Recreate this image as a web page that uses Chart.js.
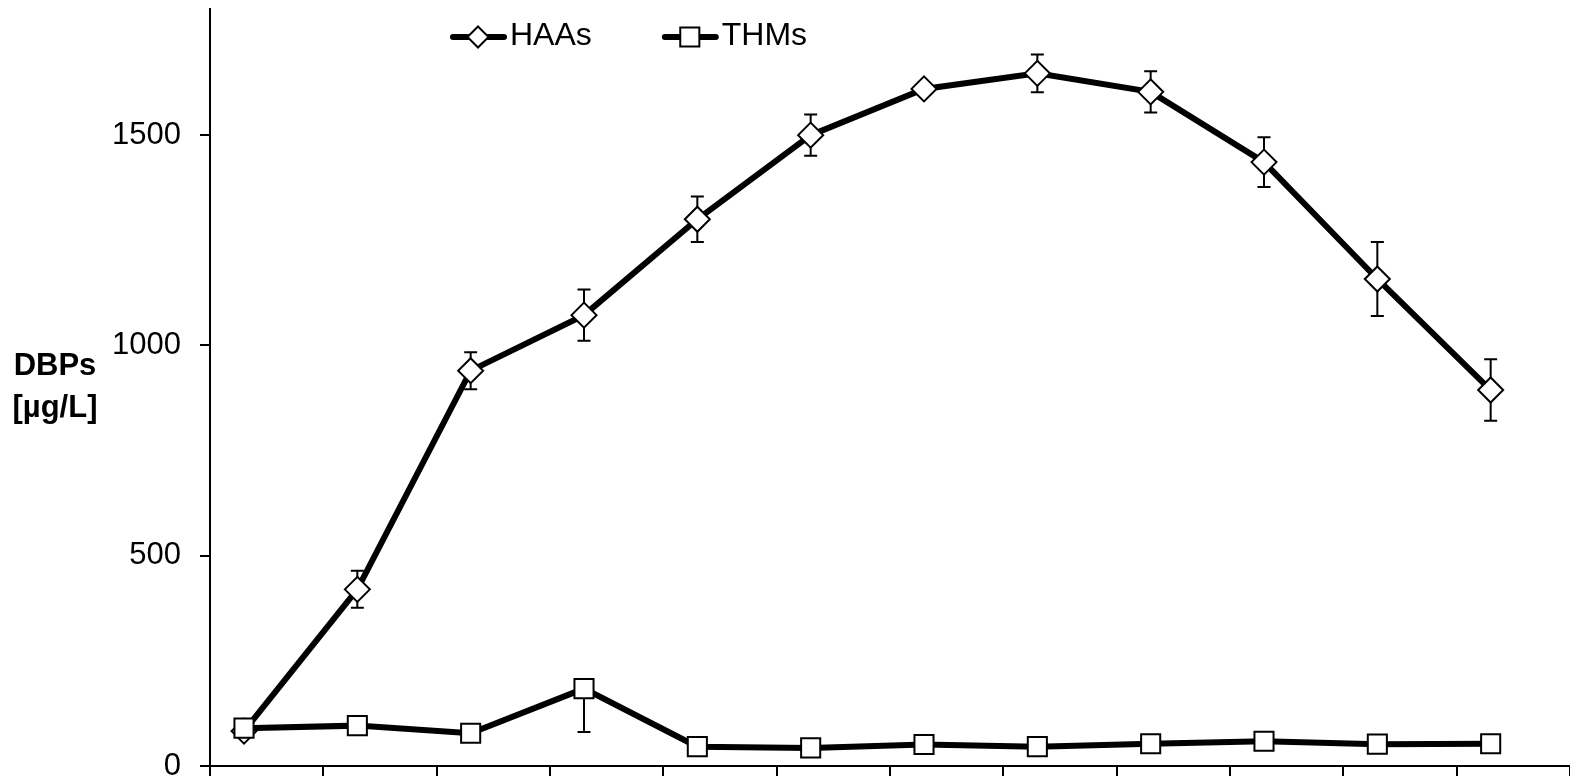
<!DOCTYPE html>
<html>
<head>
<meta charset="utf-8">
<script src="https://cdn.jsdelivr.net/npm/chart.js@4/dist/chart.umd.min.js"></script>
<style>
  html, body { margin: 0; padding: 0; background: #fff; }
  #wrap { width: 1570px; height: 780px; position: relative; }
</style>
</head>
<body>
<div id="wrap"><canvas id="c" width="1570" height="780"></canvas></div>
<script>
// ---- data ----
const seriesNames = ['HAAs', 'THMs'];
const xValues = [0.3, 1.3, 2.3, 3.3, 4.3, 5.3, 6.3, 7.3, 8.3, 9.3, 10.3, 11.3];
const haas = [83, 420, 940, 1072, 1300, 1500, 1610, 1647, 1603, 1436, 1158, 894];
const haasErrPlus = [0, 44, 44, 61, 54, 49, 0, 45, 49, 59, 88, 73];
const haasErrMinus = [0, 44, 44, 61, 54, 49, 0, 45, 49, 59, 88, 73];
const thms = [90, 96, 78, 184, 46, 43, 51, 46, 53, 59, 52, 53];
const thmsErrPlus = [0, 0, 0, 0, 0, 0, 0, 0, 0, 0, 0, 0];
const thmsErrMinus = [0, 0, 0, 103, 0, 0, 0, 0, 0, 0, 0, 0];
const xTickValues = [0, 1, 2, 3, 4, 5, 6, 7, 8, 9, 10, 11, 12];
const yTickValues = [0, 500, 1000, 1500];
const yTitleLines = ['DBPs', '[µg/L]'];

const FONT = '"Liberation Sans", Arial, sans-serif';

const errPlus = [haasErrPlus, thmsErrPlus];
const errMinus = [haasErrMinus, thmsErrMinus];
const values = [haas, thms];

const errorBarPlugin = {
  id: 'errorBars',
  beforeDatasetsDraw(chart) {
    const ctx = chart.ctx;
    const xs = chart.scales.x, ys = chart.scales.y;
    ctx.save();
    ctx.strokeStyle = '#000';
    ctx.lineWidth = 2;
    for (let d = 0; d < values.length; d++) {
      for (let i = 0; i < xValues.length; i++) {
        const p = errPlus[d][i], m = errMinus[d][i];
        const x = xs.getPixelForValue(xValues[i]);
        const yc = ys.getPixelForValue(values[d][i]);
        const cap = 6.5;
        if (p > 0) {
          const yt = ys.getPixelForValue(values[d][i] + p);
          ctx.beginPath();
          ctx.moveTo(x, yc); ctx.lineTo(x, yt);
          ctx.moveTo(x - cap, yt); ctx.lineTo(x + cap, yt);
          ctx.stroke();
        }
        if (m > 0) {
          const yb = ys.getPixelForValue(values[d][i] - m);
          ctx.beginPath();
          ctx.moveTo(x, yc); ctx.lineTo(x, yb);
          ctx.moveTo(x - cap, yb); ctx.lineTo(x + cap, yb);
          ctx.stroke();
        }
      }
    }
    ctx.restore();
  }
};

function drawMarker(ctx, style, x, y, r) {
  ctx.beginPath();
  if (style === 'rectRot') {
    ctx.moveTo(x - r, y); ctx.lineTo(x, y - r); ctx.lineTo(x + r, y); ctx.lineTo(x, y + r);
    ctx.closePath();
  } else {
    const s = Math.SQRT1_2 * r;
    ctx.rect(x - s, y - s, 2 * s, 2 * s);
  }
  ctx.fillStyle = '#fff';
  ctx.fill();
  ctx.lineWidth = 2;
  ctx.strokeStyle = '#000';
  ctx.stroke();
}

const legendTitlePlugin = {
  id: 'legendTitle',
  afterDraw(chart) {
    const ctx = chart.ctx;
    const area = chart.chartArea;
    ctx.save();
    // legend
    ctx.font = '32px ' + FONT;
    ctx.textBaseline = 'middle';
    ctx.textAlign = 'left';
    let x = area.left + 240;
    const y = area.top + 27;
    chart.data.datasets.forEach((ds, i) => {
      ctx.strokeStyle = '#000';
      ctx.lineWidth = 6;
      ctx.lineCap = 'round';
      ctx.beginPath();
      ctx.moveTo(x + 3, y + 1); ctx.lineTo(x + 54, y + 1);
      ctx.stroke();
      drawMarker(ctx, ds.pointStyle, x + 28, y + 1, ds.pointStyle === 'rectRot' ? 10.5 : 13.5);
      ctx.fillStyle = '#000';
      ctx.fillText(ds.label, x + 60, y);
      x += 60 + ctx.measureText(ds.label).width + 70;
    });
    // y title
    ctx.font = 'bold 31px ' + FONT;
    ctx.textAlign = 'center';
    const cy = (area.top + area.bottom) / 2;
    const tx = area.left - 155;
    ctx.fillText(yTitleLines[0], tx, cy - 21);
    ctx.fillText(yTitleLines[1], tx, cy + 21);
    ctx.restore();
  }
};

new Chart(document.getElementById('c'), {
  type: 'line',
  data: {
    datasets: [
      {
        label: seriesNames[0],
        data: xValues.map((x, i) => ({ x: x, y: haas[i] })),
        borderColor: '#000', borderWidth: 6,
        pointStyle: 'rectRot', pointRadius: 12.5, pointBorderWidth: 2,
        pointBackgroundColor: '#fff', pointBorderColor: '#000',
        tension: 0, order: 1
      },
      {
        label: seriesNames[1],
        data: xValues.map((x, i) => ({ x: x, y: thms[i] })),
        borderColor: '#000', borderWidth: 6,
        pointStyle: 'rect', pointRadius: 13.5, pointBorderWidth: 2,
        pointBackgroundColor: '#fff', pointBorderColor: '#000',
        tension: 0, order: 0
      }
    ]
  },
  options: {
    responsive: false,
    animation: false,
    layout: { autoPadding: false, padding: { top: 9, bottom: 4, left: 0, right: 0 } },
    plugins: { legend: { display: false }, tooltip: { enabled: false } },
    scales: {
      x: {
        type: 'linear', min: 0, max: 12,
        afterBuildTicks: s => { s.ticks = xTickValues.map(v => ({ value: v })); },
        afterFit: s => { s.paddingLeft = 0; s.paddingRight = 0; s.height = 10; },
        ticks: { display: false },
        grid: { drawOnChartArea: false, drawTicks: true, tickLength: 10, color: '#000', lineWidth: 2 },
        border: { display: true, color: '#000', width: 2 }
      },
      y: {
        type: 'linear', min: 0, max: 1800,
        afterBuildTicks: s => { s.ticks = yTickValues.map(v => ({ value: v })); },
        afterFit: s => { s.width = 210; s.paddingTop = 0; s.paddingBottom = 0; },
        ticks: { color: '#000', font: { family: FONT, size: 31 }, padding: 19, callback: v => String(v) },
        grid: { drawOnChartArea: false, drawTicks: true, tickLength: 10, color: '#000', lineWidth: 2 },
        border: { display: true, color: '#000', width: 2 }
      }
    }
  },
  plugins: [errorBarPlugin, legendTitlePlugin]
});
</script>
</body>
</html>
